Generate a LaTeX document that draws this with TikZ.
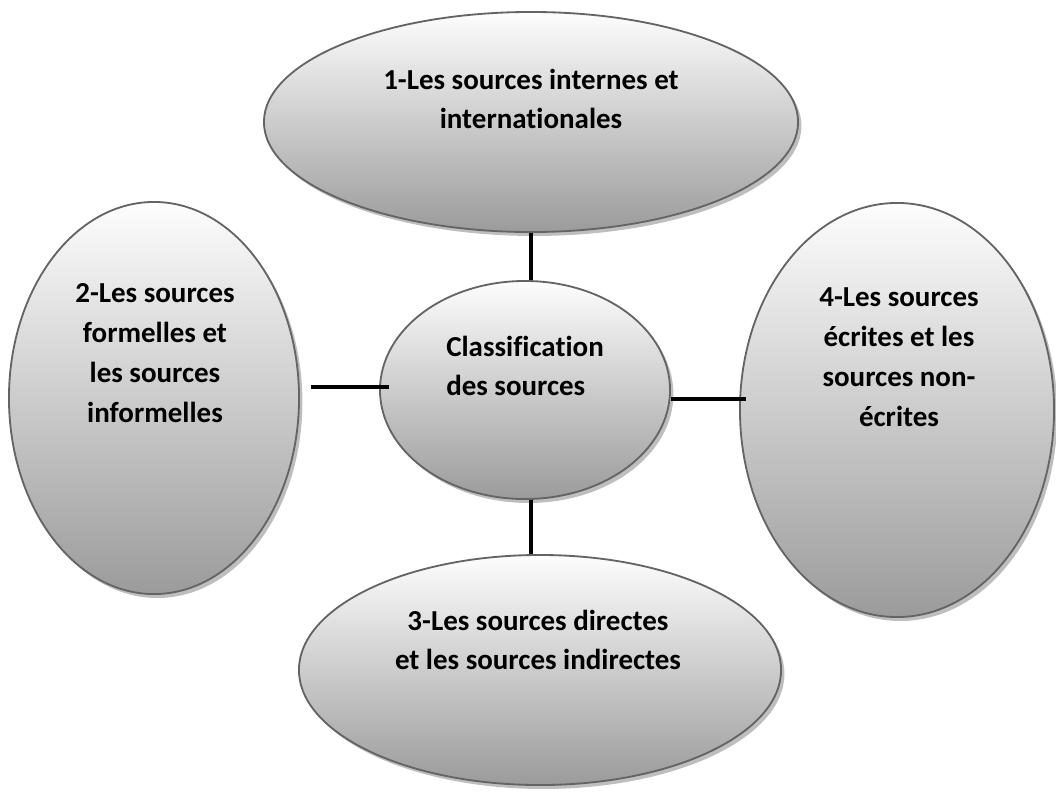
\documentclass[tikz,border=0pt]{standalone}
\usepackage{fontspec}
\setmainfont{Carlito}[Ligatures=NoCommon]
\usepackage{tikz}
\usetikzlibrary{shapes.geometric, shadows}

\definecolor{rim}{RGB}{100,100,100}
\definecolor{shadetop}{RGB}{253,253,253}
\definecolor{shadebot}{RGB}{155,155,155}
\definecolor{shadowgray}{RGB}{190,190,190}

\tikzset{
    bubble/.style={ellipse, draw=rim, line width=1.3pt, top color=shadetop, bottom color=shadebot, inner sep=0pt,
        drop shadow={shadow xshift=2.4pt, shadow yshift=-2.8pt, fill=shadowgray, opacity=1}},
    srctext/.style={align=center, inner sep=0pt, font=\bfseries\fontsize{20.6}{27.3}\selectfont},
    tallgap/.style={font=\bfseries\fontsize{20.6}{28.4}\selectfont},
    link/.style={line width=2.3pt, black}
}

\begin{document}
\begin{tikzpicture}[x=0.025cm, y=-0.025cm]
        \useasboundingbox (0,0) rectangle (1056,792);

        % the five ellipses
        \node[bubble, minimum width=13.35cm, minimum height=5.5cm] (internes) at (531,122) {};
        \node[bubble, minimum width=7.25cm, minimum height=9.8cm] (formelles) at (154,398) {};
        \node[bubble, minimum width=12.05cm, minimum height=5.75cm] (directes) at (540,670) {};
        \node[bubble, minimum width=7.85cm, minimum height=10.35cm] (ecrites) at (897,410) {};
        \node[bubble, minimum width=7.25cm, minimum height=5.45cm] (classif) at (525,390) {};

        % texts
        \node[srctext] (tinternes) at (531,99) {1-Les sources internes et\\internationales};
        \node[srctext, tallgap] (tformelles) at (155,353) {2-Les sources\\formelles et\\les sources\\informelles};
        \node[srctext] (tdirectes) at (538,640) {3-Les sources directes\\et les sources indirectes};
        \node[srctext, tallgap] (tecrites) at (899,357) {4-Les sources\\écrites et les\\sources non-\\écrites};
        \node[srctext, align=left] (tclassif) at (525,366) {Classification\\des sources};

        % connectors
        \draw[link] (internes.south) -- (internes.south |- classif.north);
        \draw[link] (internes.south |- classif.south) -- (internes.south |- directes.north);
        \draw[link] ([shift={(11,-11)}]formelles.east) -- ([shift={(10,-3)}]classif.west);
        \draw[link] ([shift={(0,9)}]classif.east) -- ([shift={(7,-11)}]ecrites.west);
    \end{tikzpicture}
\end{document}
